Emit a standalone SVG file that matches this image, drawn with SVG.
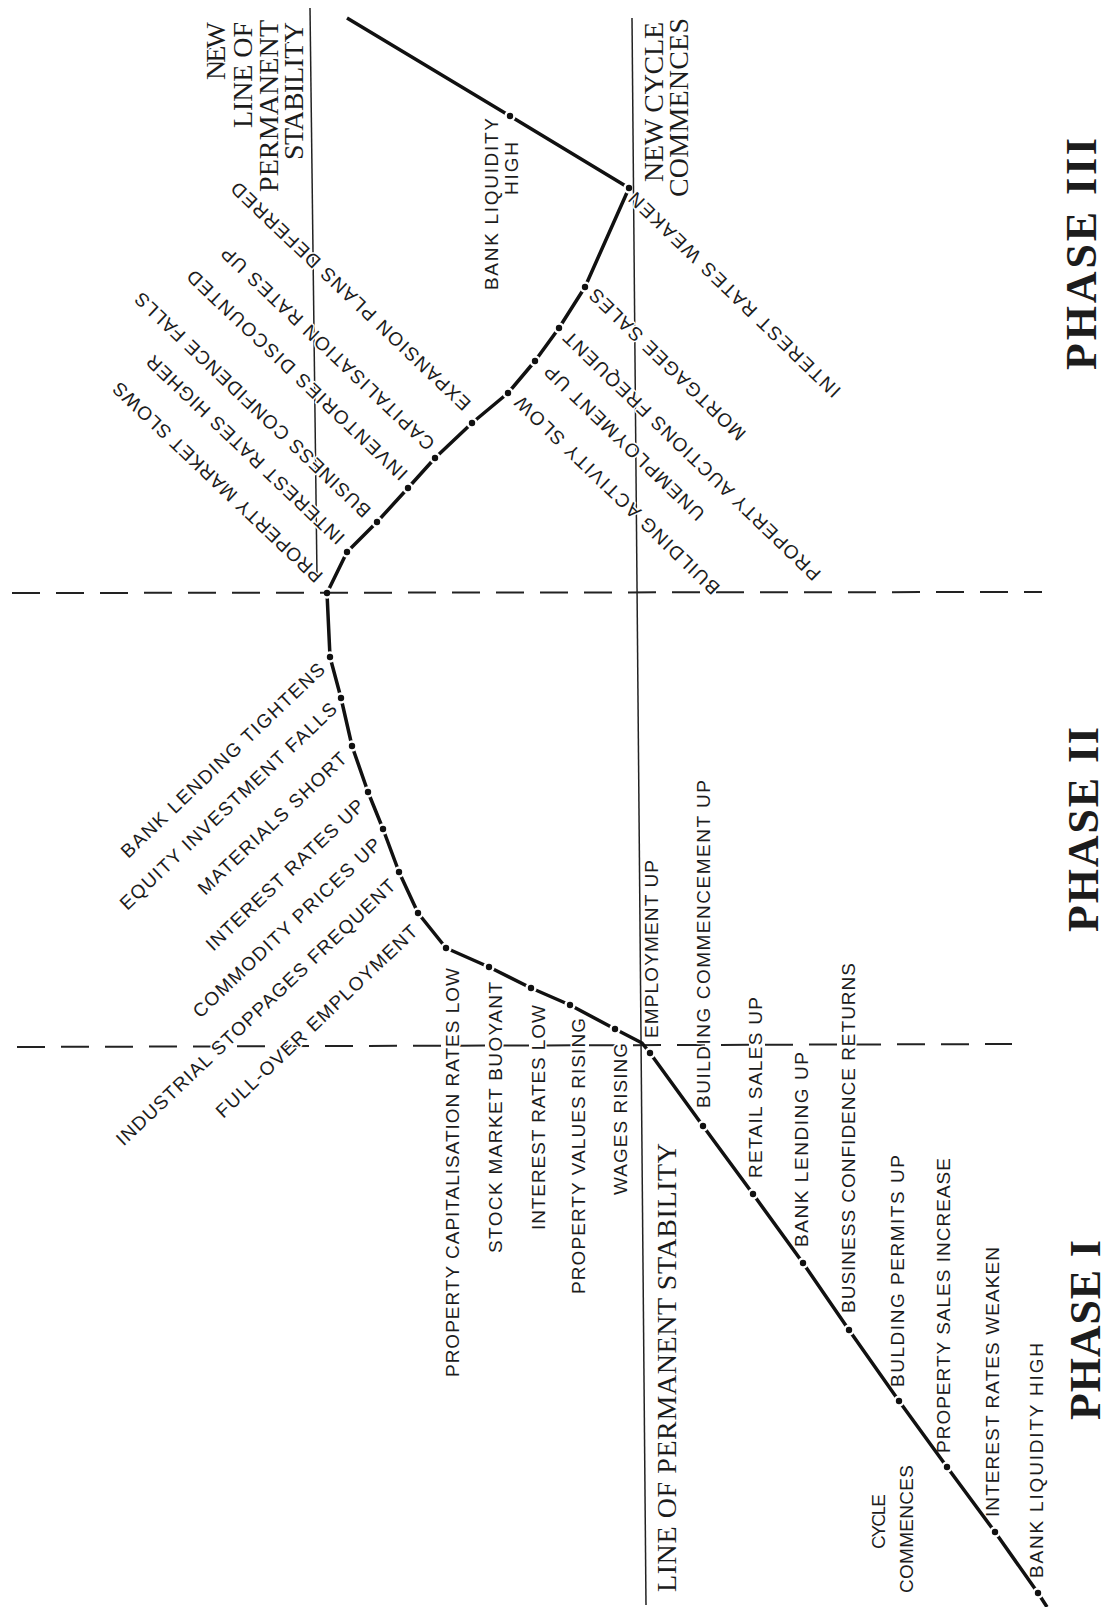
<svg xmlns="http://www.w3.org/2000/svg" xmlns:xlink="http://www.w3.org/1999/xlink" width="1112" height="1607" viewBox="0 0 1112 1607">
<style>
.lab{font-family:"Liberation Sans",Arial,sans-serif;font-size:19px;fill:#1c1c1c;stroke:#fff;stroke-width:3px;paint-order:stroke;stroke-linejoin:round}
.ser{font-family:"Liberation Serif","Times New Roman",serif;font-size:28px;fill:#1c1c1c;stroke:#fff;stroke-width:3px;paint-order:stroke;stroke-linejoin:round}
.ph{font-family:"Liberation Serif","Times New Roman",serif;font-size:44px;font-weight:bold;fill:#1c1c1c}
.ref{stroke:#222;stroke-width:1.5;fill:none}
.dash{stroke:#222;stroke-width:2;stroke-dasharray:28 16;fill:none}
.curve{stroke:#111;stroke-width:3.5;fill:none;stroke-linejoin:round;stroke-linecap:butt}
</style>
<defs>
<g id="dotpts">
<circle cx="1038" cy="1593" r="3.2"/><circle cx="995" cy="1532" r="3.2"/><circle cx="947" cy="1467" r="3.2"/><circle cx="899" cy="1401" r="3.2"/><circle cx="849" cy="1330" r="3.2"/><circle cx="803" cy="1263" r="3.2"/><circle cx="753" cy="1194" r="3.2"/><circle cx="703" cy="1126" r="3.2"/><circle cx="650" cy="1053" r="3.2"/>
<circle cx="615" cy="1029" r="3.2"/><circle cx="570" cy="1005" r="3.2"/><circle cx="531" cy="988" r="3.2"/><circle cx="489" cy="967" r="3.2"/><circle cx="446" cy="948" r="3.2"/>
<circle cx="418" cy="913" r="3.2"/><circle cx="399" cy="872" r="3.2"/><circle cx="383" cy="829" r="3.2"/><circle cx="368" cy="792" r="3.2"/><circle cx="352" cy="746" r="3.2"/><circle cx="341" cy="698" r="3.2"/><circle cx="330" cy="657" r="3.2"/>
<circle cx="327" cy="593" r="3.2"/>
<circle cx="347" cy="552" r="3.2"/><circle cx="377" cy="522" r="3.2"/><circle cx="408" cy="488" r="3.2"/><circle cx="435" cy="458" r="3.2"/><circle cx="472" cy="423" r="3.2"/><circle cx="508" cy="393" r="3.2"/><circle cx="535" cy="361" r="3.2"/><circle cx="559" cy="328" r="3.2"/><circle cx="585" cy="287" r="3.2"/><circle cx="629" cy="188" r="3.2"/>
<circle cx="510" cy="116" r="3.2"/>
</g>
<mask id="gapmask" maskUnits="userSpaceOnUse" x="0" y="0" width="1112" height="1607">
<rect width="1112" height="1607" fill="#fff"/>
<use href="#dotpts" xlink:href="#dotpts" fill="#000" stroke="#000" stroke-width="5"/>
</mask>
</defs>
<rect width="1112" height="1607" fill="#fff"/>

<g id="reference-lines">
<line class="ref" x1="632" y1="18" x2="646" y2="1605"/>
<line class="ref" x1="310" y1="8" x2="317" y2="577"/>
<line class="dash" x1="12" y1="593" x2="1042" y2="592"/>
<line class="dash" x1="17" y1="1047" x2="1012" y2="1044"/>
</g>

<g id="phase-labels">
<text class="ph" transform="translate(1100 1420) rotate(-90)" textLength="180" lengthAdjust="spacing">PHASE I</text>
<text class="ph" transform="translate(1098 932) rotate(-90)" textLength="205" lengthAdjust="spacing">PHASE II</text>
<text class="ph" transform="translate(1096 370) rotate(-90)" textLength="232" lengthAdjust="spacing">PHASE III</text>
</g>

<g id="line-of-permanent-stability">
<text class="ser" transform="translate(676 1592) rotate(-90)" textLength="449" lengthAdjust="spacing">LINE OF PERMANENT STABILITY</text>
</g>
<g id="new-line-of-permanent-stability">
<text class="ser" transform="translate(225 80) rotate(-90)" textLength="58" lengthAdjust="spacing">NEW</text>
<text class="ser" transform="translate(252 128) rotate(-90)" textLength="106" lengthAdjust="spacing">LINE OF</text>
<text class="ser" transform="translate(278 192) rotate(-90)" textLength="172" lengthAdjust="spacing">PERMANENT</text>
<text class="ser" transform="translate(303 160) rotate(-90)" textLength="138" lengthAdjust="spacing">STABILITY</text>
</g>
<g id="new-cycle-commences">
<text class="ser" transform="translate(663 182) rotate(-90)" textLength="160" lengthAdjust="spacing">NEW CYCLE</text>
<text class="ser" transform="translate(688 197) rotate(-90)" textLength="179" lengthAdjust="spacing">COMMENCES</text>
</g>

<g id="phase1-labels">
<g id="employment-up"><text class="lab" transform="translate(658 1038) rotate(-90)" textLength="178" lengthAdjust="spacing">EMPLOYMENT UP</text></g>
<g id="building-commencement-up"><text class="lab" transform="translate(710 1108) rotate(-90)" textLength="328" lengthAdjust="spacing">BUILDING COMMENCEMENT UP</text></g>
<g id="retail-sales-up"><text class="lab" transform="translate(762 1178) rotate(-90)" textLength="181" lengthAdjust="spacing">RETAIL SALES UP</text></g>
<g id="bank-lending-up"><text class="lab" transform="translate(808 1247) rotate(-90)" textLength="195" lengthAdjust="spacing">BANK LENDING UP</text></g>
<g id="business-confidence-returns"><text class="lab" transform="translate(855 1313) rotate(-90)" textLength="350" lengthAdjust="spacing">BUSINESS CONFIDENCE RETURNS</text></g>
<g id="bulding-permits-up"><text class="lab" transform="translate(904 1387) rotate(-90)" textLength="232" lengthAdjust="spacing">BULDING PERMITS UP</text></g>
<g id="property-sales-increase"><text class="lab" transform="translate(950 1453) rotate(-90)" textLength="295" lengthAdjust="spacing">PROPERTY SALES INCREASE</text></g>
<g id="interest-rates-weaken-1"><text class="lab" transform="translate(999 1517) rotate(-90)" textLength="270" lengthAdjust="spacing">INTEREST RATES WEAKEN</text></g>
<g id="bank-liquidity-high-1"><text class="lab" transform="translate(1043 1578) rotate(-90)" textLength="235" lengthAdjust="spacing">BANK LIQUIDITY HIGH</text></g>
<g id="cycle-commences">
<text class="lab" transform="translate(885 1549) rotate(-90)" textLength="55" lengthAdjust="spacing">CYCLE</text>
<text class="lab" transform="translate(913 1593) rotate(-90)" textLength="128" lengthAdjust="spacing">COMMENCES</text>
</g>
<g id="property-capitalisation-rates-low"><text class="lab" transform="translate(459 1377) rotate(-90)" textLength="409" lengthAdjust="spacing">PROPERTY CAPITALISATION RATES LOW</text></g>
<g id="stock-market-buoyant"><text class="lab" transform="translate(502 1253) rotate(-90)" textLength="271" lengthAdjust="spacing">STOCK MARKET BUOYANT</text></g>
<g id="interest-rates-low"><text class="lab" transform="translate(545 1230) rotate(-90)" textLength="225" lengthAdjust="spacing">INTEREST RATES LOW</text></g>
<g id="property-values-rising"><text class="lab" transform="translate(585 1294) rotate(-90)" textLength="276" lengthAdjust="spacing">PROPERTY VALUES RISING</text></g>
<g id="wages-rising"><text class="lab" transform="translate(627 1195) rotate(-90)" textLength="152" lengthAdjust="spacing">WAGES RISING</text></g>
</g>

<g id="phase2-labels">
<g id="bank-lending-tightens"><text class="lab" dy="6.6" transform="translate(123.6 854.1) rotate(-43.5)" textLength="273" lengthAdjust="spacing">BANK LENDING TIGHTENS</text></g>
<g id="equity-investment-falls"><text class="lab" dy="6.6" transform="translate(122.6 906.1) rotate(-43.5)" textLength="291" lengthAdjust="spacing">EQUITY INVESTMENT FALLS</text></g>
<g id="materials-short"><text class="lab" dy="6.6" transform="translate(200.6 891.1) rotate(-43.5)" textLength="197" lengthAdjust="spacing">MATERIALS SHORT</text></g>
<g id="interest-rates-up"><text class="lab" dy="6.6" transform="translate(208.6 947.1) rotate(-43.5)" textLength="210" lengthAdjust="spacing">INTEREST RATES UP</text></g>
<g id="commodity-prices-up"><text class="lab" dy="6.6" transform="translate(195.6 1014.1) rotate(-43.5)" textLength="251" lengthAdjust="spacing">COMMODITY PRICES UP</text></g>
<g id="industrial-stoppages-frequent"><text class="lab" dy="6.6" transform="translate(119 1142) rotate(-43.5)" textLength="377" lengthAdjust="spacing">INDUSTRIAL STOPPAGES FREQUENT</text></g>
<g id="full-over-employment"><text class="lab" dy="6.6" transform="translate(218.6 1114.1) rotate(-43.5)" textLength="270" lengthAdjust="spacing">FULL-OVER EMPLOYMENT</text></g>
</g>

<g id="phase3-labels">
<g id="property-market-slows"><text class="lab" dy="6.6" transform="translate(319.4 579.1) rotate(223.5)" textLength="281" lengthAdjust="spacing">PROPERTY MARKET SLOWS</text></g>
<g id="interest-rates-higher"><text class="lab" dy="6.6" transform="translate(341.4 541.1) rotate(223.5)" textLength="265" lengthAdjust="spacing">INTEREST RATES HIGHER</text></g>
<g id="business-confidence-falls"><text class="lab" dy="6.6" transform="translate(367.4 514.1) rotate(223.5)" textLength="317" lengthAdjust="spacing">BUSINESS CONFIDENCE FALLS</text></g>
<g id="inventories-discounted"><text class="lab" dy="6.6" transform="translate(404.4 477.1) rotate(223.5)" textLength="296" lengthAdjust="spacing">INVENTORIES DISCOUNTED</text></g>
<g id="capitalisation-rates-up"><text class="lab" dy="6.6" transform="translate(431.4 447.1) rotate(223.5)" textLength="286" lengthAdjust="spacing">CAPITALISATION RATES UP</text></g>
<g id="expansion-plans-deferred"><text class="lab" dy="6.6" transform="translate(467.4 407.1) rotate(223.5)" textLength="322" lengthAdjust="spacing">EXPANSION PLANS DEFERRED</text></g>
<g id="building-activity-slow"><text class="lab" dy="6.6" transform="translate(716.3 591.2) rotate(224)" textLength="276" lengthAdjust="spacing">BUILDING ACTIVITY SLOW</text></g>
<g id="unemployment-up"><text class="lab" dy="6.6" transform="translate(701.3 517.2) rotate(224)" textLength="214" lengthAdjust="spacing">UNEMPLOYMENT UP</text></g>
<g id="property-auctions-frequent"><text class="lab" dy="6.6" transform="translate(817.3 577.2) rotate(224)" textLength="349" lengthAdjust="spacing">PROPERTY AUCTIONS FREQUENT</text></g>
<g id="mortgagee-sales"><text class="lab" dy="6.6" transform="translate(742.3 437.2) rotate(224)" textLength="209" lengthAdjust="spacing">MORTGAGEE SALES</text></g>
<g id="interest-rates-weaken-3"><text class="lab" dy="6.6" transform="translate(837.3 394.2) rotate(224)" textLength="286" lengthAdjust="spacing">INTEREST RATES WEAKEN</text></g>
<g id="bank-liquidity-high-3">
<text class="lab" transform="translate(498 290) rotate(-90)" textLength="172" lengthAdjust="spacing">BANK LIQUIDITY</text>
<text class="lab" transform="translate(518 195) rotate(-90)" textLength="53" lengthAdjust="spacing">HIGH</text>
</g>
</g>

<g id="connectors">
<path class="curve" mask="url(#gapmask)" d="M1047,1607 L1038,1593 L995,1532 L947,1467 L899,1401 L849,1330 L803,1263 L753,1194 L703,1126 L650,1053 L642,1043 L615,1029 L570,1005 L531,988 L489,967 L446,948 L418,913 L399,872 L383,829 L368,792 L352,746 L341,698 L330,657 L327,593 L347,552 L377,522 L408,488 L435,458 L472,423 L508,393 L535,361 L559,328 L585,287 L629,188 L510,116 L347,18"/>
<use href="#dotpts" xlink:href="#dotpts" fill="#111"/>
</g>
</svg>
